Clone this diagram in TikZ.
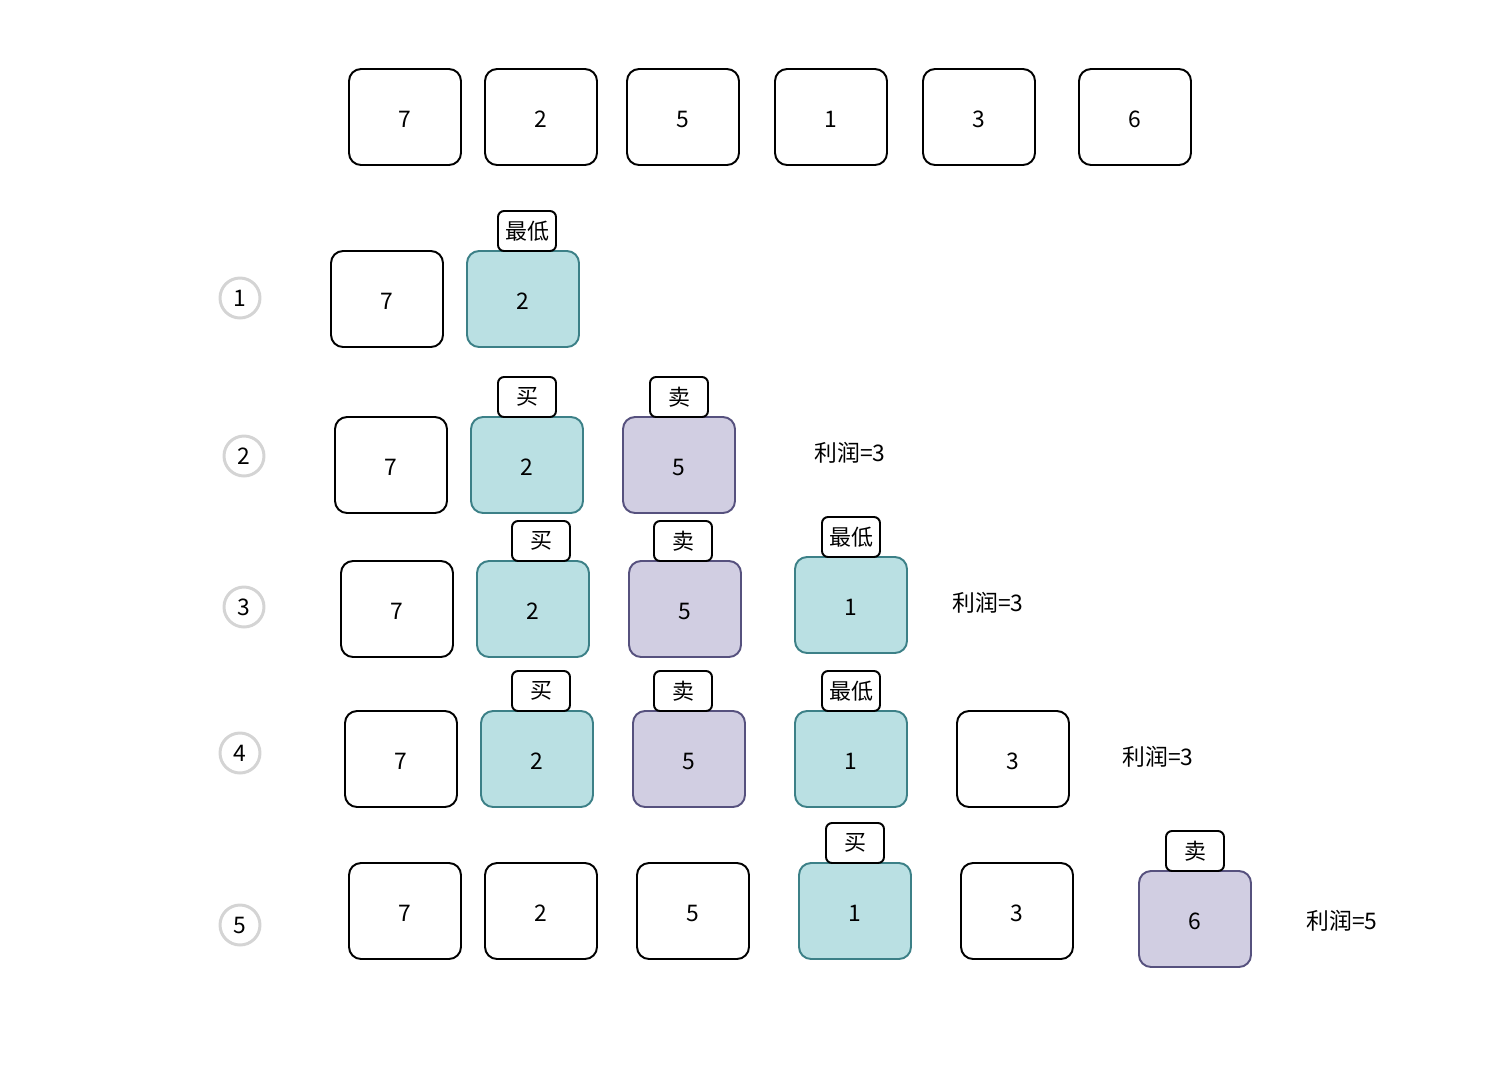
\documentclass[tikz,border=0pt]{standalone}
\usepackage{fontspec}
\setmainfont{Noto Sans CJK SC}
\usepackage{tikz}
\usetikzlibrary{positioning}
\definecolor{lowfill}{HTML}{BAE0E3}
\definecolor{lowdraw}{HTML}{3C8087}
\definecolor{sellfill}{HTML}{D1CEE2}
\definecolor{selldraw}{HTML}{56517E}
\definecolor{ringgray}{HTML}{D4D4D4}

\begin{document}
\begin{tikzpicture}[x=0.02cm, y=-0.02cm,
  price/.style={draw=black, line width=1.1pt, rounded corners=0.24cm, fill=white,
    minimum width=2.24cm, minimum height=1.92cm, text height=0.41cm, text depth=0cm,
    font=\fontsize{13}{15}\selectfont},
  low/.style={price, fill=lowfill, draw=lowdraw},
  sell/.style={price, fill=sellfill, draw=selldraw},
  tag/.style={draw=black, line width=1.1pt, rounded corners=0.12cm, fill=white,
    minimum width=1.16cm, minimum height=0.8cm, inner sep=0pt,
    font=\fontsize{12.5}{14}\selectfont},
  stepno/.style={circle, draw=ringgray, line width=1.7pt, minimum size=0.8cm, inner sep=0pt,
    font=\fontsize{13}{15}\selectfont},
  profit/.style={font=\fontsize{13}{15}\selectfont}]

   \useasboundingbox (0,0) rectangle (1512,1090);

   % prices
   \node[price] (p1) at (405,117) {7};
   \node[price] (p2) at (541,117) {2};
   \node[price] (p3) at (683,117) {5};
   \node[price] (p4) at (831,117) {1};
   \node[price] (p5) at (979,117) {3};
   \node[price] (p6) at (1135,117) {6};

   % step 1
   \node[stepno] (s1) at (240,298) {1};
   \node[price] (a1) at (387,299) {7};
   \node[low] (a2) at (523,299) {2};
   \node[tag] (a2t) at (527,231) {最低};

   % step 2
   \node[stepno] (s2) at (244,456) {2};
   \node[price] (b1) at (391,465) {7};
   \node[low] (b2) at (527,465) {2};
   \node[sell] (b3) at (679,465) {5};
   \node[tag] (b2t) at (527,397) {买};
   \node[tag] (b3t) at (679,397) {卖};
   \node[profit] (bp) at (850,453) {利润=3};

   % step 3
   \node[stepno] (s3) at (244,607) {3};
   \node[price] (c1) at (397,609) {7};
   \node[low] (c2) at (533,609) {2};
   \node[sell] (c3) at (685,609) {5};
   \node[low] (c4) at (851,605) {1};
   \node[tag] (c2t) at (541,541) {买};
   \node[tag] (c3t) at (683,541) {卖};
   \node[tag] (c4t) at (851,537) {最低};
   \node[profit] (cp) at (988,603) {利润=3};

   % step 4
   \node[stepno] (s4) at (240,753) {4};
   \node[price] (d1) at (401,759) {7};
   \node[low] (d2) at (537,759) {2};
   \node[sell] (d3) at (689,759) {5};
   \node[low] (d4) at (851,759) {1};
   \node[price] (d5) at (1013,759) {3};
   \node[tag] (d2t) at (541,691) {买};
   \node[tag] (d3t) at (683,691) {卖};
   \node[tag] (d4t) at (851,691) {最低};
   \node[profit] (dp) at (1158,757) {利润=3};

   % step 5
   \node[stepno] (s5) at (240,925) {5};
   \node[price] (e1) at (405,911) {7};
   \node[price] (e2) at (541,911) {2};
   \node[price] (e3) at (693,911) {5};
   \node[low] (e4) at (855,911) {1};
   \node[price] (e5) at (1017,911) {3};
   \node[sell] (e6) at (1195,919) {6};
   \node[tag] (e4t) at (855,843) {买};
   \node[tag] (e6t) at (1195,851) {卖};
   \node[profit] (ep) at (1342,921) {利润=5};
  \end{tikzpicture}
\end{document}
